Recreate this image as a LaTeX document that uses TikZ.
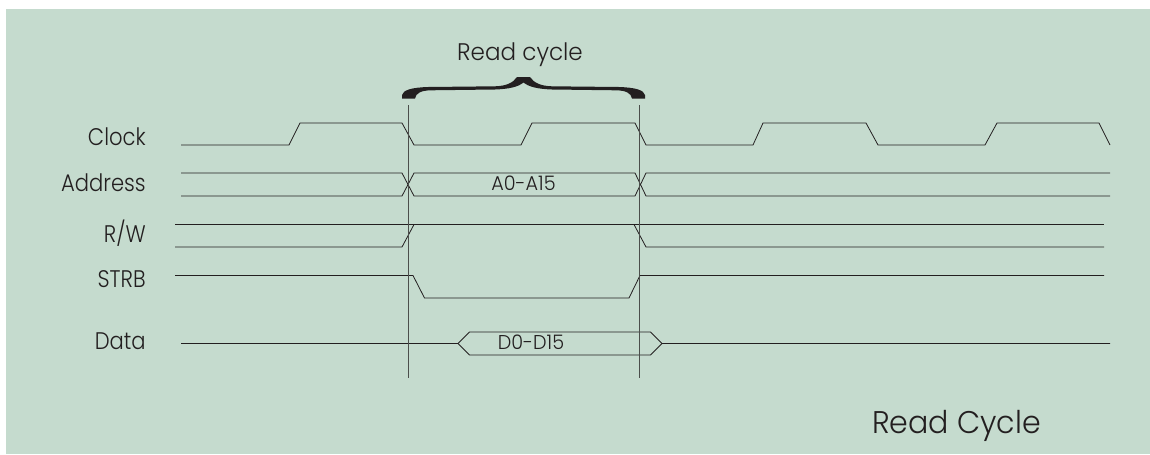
\documentclass[tikz,border=0pt]{standalone}
\usepackage{fontspec}
\setmainfont[FakeStretch=0.88]{Poppins Light}
\newfontfamily\widefont[FakeStretch=0.96]{Poppins Light}
\usepackage{tikz}
\usetikzlibrary{positioning}
\definecolor{panelgreen}{HTML}{C5DBCE}
\definecolor{inkdark}{HTML}{231F20}
\tikzset{
	wave/.style={draw=inkdark, line width=0.6pt, line join=miter},
	marker/.style={draw=inkdark!75!panelgreen, line width=0.75pt},
	siglabel/.style={text=inkdark, inner sep=0pt, anchor=base east, font=\fontsize{18}{20}\selectfont},
	buslabel/.style={text=inkdark, inner sep=0pt, anchor=base, font=\widefont\fontsize{15}{17}\selectfont},
}
\begin{document}
\begin{tikzpicture}[x=0.75pt, y=-0.75pt]
	\useasboundingbox (0,0) rectangle (1150,454);
	\fill[panelgreen] (6,9) rectangle (1150,454);

	\node[siglabel] (clock) at (146,145) {Clock};
	\node[siglabel, below=34.5pt of clock.base east, anchor=base east] (address) {Address};
	\node[siglabel, below=38.25pt of address.base east, anchor=base east] (rw) {R/W};
	\node[siglabel, below=33.75pt of rw.base east, anchor=base east] (strb) {STRB};
	\node[siglabel, below=46.5pt of strb.base east, anchor=base east] (data) {Data};

	\node[siglabel, anchor=base, font=\widefont\fontsize{18}{20}\selectfont] (cycle) at (520,60) {Read cycle};
	\node[siglabel, anchor=base, font=\widefont\fontsize{23.5}{26}\selectfont] (title) at (956.5,433) {Read Cycle};
	\node[buslabel] (bus) at (523.5,190) {A0-A15};
	\node[buslabel] (dbus) at (531,349) {D0-D15};

	% clock
	\draw[wave] (181,145) -- (289,145) -- (300,123) -- (402,123) -- (414,145) -- (521,145) -- (532,123) -- (635,123)
		-- (646,145) -- (753,145) -- (763,123) -- (866,123) -- (878,145) -- (985,145) -- (997,123) -- (1099,123) -- (1110,145);
	% address
	\draw[wave] (181,173) -- (402,173) -- (414,196) -- (635,196) -- (646,173) -- (1110,173);
	\draw[wave] (181,196) -- (402,196) -- (414,173) -- (635,173) -- (646,196) -- (1110,196);
	% r/w
	\draw[wave] (175,224.5) -- (1104,224.5);
	\draw[wave] (175,247) -- (402,247) -- (414,224.5);
	\draw[wave] (634,224.5) -- (646,247) -- (1104,247);
	% strb
	\draw[wave] (175,275.5) -- (413,275.5) -- (424.5,298) -- (629,298) -- (640,275.5) -- (1104,275.5);
	% data
	\draw[wave] (181,343.5) -- (458,343.5) -- (469.5,332) -- (650.5,332) -- (662,343.5) -- (1110,343.5);
	\draw[wave] (458,343.5) -- (469.5,355) -- (650.5,355) -- (662,343.5);

	\coordinate (starttop) at (408,105);
	\coordinate (startbot) at (408,377.5);
	\coordinate (endtop) at (639.5,105);
	\coordinate (endbot) at (639.5,377.5);
	\draw[marker] (starttop) -- (startbot);
	\draw[marker] (endtop) -- (endbot);

	% brace
	\fill[inkdark] (402,98.5) -- (402,95) .. controls (403,90) and (412,87.5) .. (428,87)
		-- (495,86.3) .. controls (506,86) and (513,83) .. (517,77) -- (530,77)
		.. controls (534,83) and (541,86) .. (552,86.3)
		-- (619,87) .. controls (635,87.5) and (644,90) .. (645,95) -- (645,98.5)
		-- (632,98.5) .. controls (631,93) and (626,90.5) .. (616,90.3)
		-- (552,89.5) .. controls (538,89) and (529,87) .. (523.5,82.5)
		.. controls (518,87) and (509,89) .. (495,89.5)
		-- (431,90.3) .. controls (421,90.5) and (416,93) .. (415,98.5) -- cycle;
\end{tikzpicture}
\end{document}
